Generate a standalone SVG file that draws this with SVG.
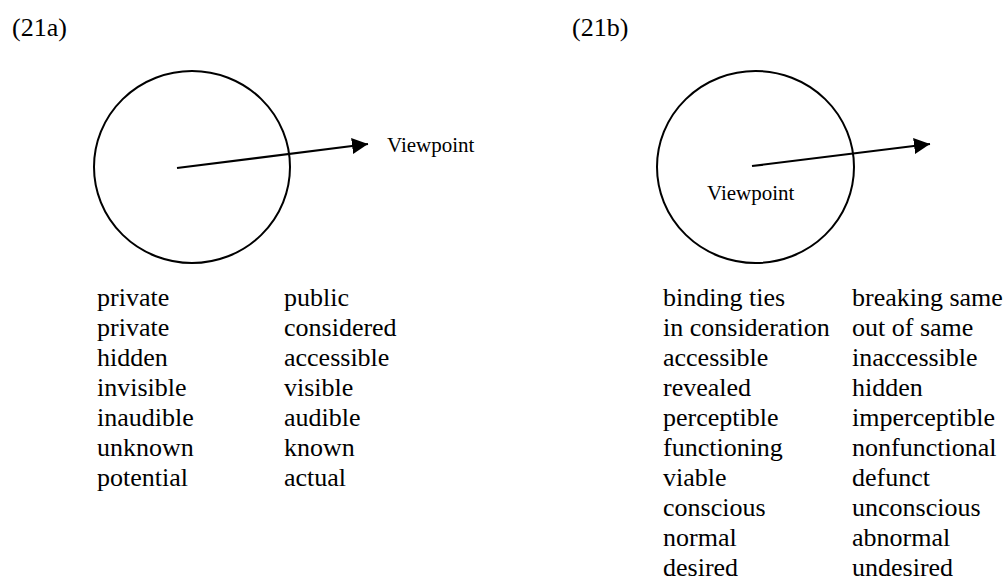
<svg xmlns="http://www.w3.org/2000/svg" width="1005" height="583" viewBox="0 0 1005 583">
<style>
text{font-family:"Liberation Serif","Times New Roman",serif;fill:#000}
.t{font-size:26px}
.v{font-size:21px}
.c{fill:none;stroke:#000;stroke-width:2}
.a{stroke:#000;stroke-width:2.2;fill:none}
</style>
<defs>
<marker id="ah" viewBox="0 0 16 16" refX="16" refY="8" markerWidth="16" markerHeight="16" markerUnits="userSpaceOnUse" orient="auto">
<path d="M0,0 L16,8 L0,16 z" fill="#000"/>
</marker>
</defs>
<rect width="1005" height="583" fill="#fff"/>
<g id="label-21a"><text class="t" x="12" y="36">(21a)</text></g>
<g id="label-21b"><text class="t" x="572" y="36">(21b)</text></g>
<g id="circle-a"><ellipse class="c" cx="192" cy="167" rx="98" ry="96"/></g>
<g id="circle-b"><ellipse class="c" cx="755.5" cy="167" rx="98.5" ry="96"/></g>
<g id="viewpoint-a"><text class="v" x="387" y="152">Viewpoint</text></g>
<g id="viewpoint-b"><text class="v" x="707" y="200">Viewpoint</text></g>
<g id="connectors">
<line class="a" x1="177" y1="168" x2="368" y2="144" marker-end="url(#ah)"/>
<line class="a" x1="752" y1="166" x2="930" y2="144" marker-end="url(#ah)"/>
</g>
<g id="list-a">
<text class="t" x="97" y="306">private</text><text class="t" x="284" y="306">public</text>
<text class="t" x="97" y="336">private</text><text class="t" x="284" y="336">considered</text>
<text class="t" x="97" y="366">hidden</text><text class="t" x="284" y="366">accessible</text>
<text class="t" x="97" y="396">invisible</text><text class="t" x="284" y="396">visible</text>
<text class="t" x="97" y="426">inaudible</text><text class="t" x="284" y="426">audible</text>
<text class="t" x="97" y="456">unknown</text><text class="t" x="284" y="456">known</text>
<text class="t" x="97" y="486">potential</text><text class="t" x="284" y="486">actual</text>
</g>
<g id="list-b">
<text class="t" x="663" y="306">binding ties</text><text class="t" x="852" y="306">breaking same</text>
<text class="t" x="663" y="336">in consideration</text><text class="t" x="852" y="336">out of same</text>
<text class="t" x="663" y="366">accessible</text><text class="t" x="852" y="366">inaccessible</text>
<text class="t" x="663" y="396">revealed</text><text class="t" x="852" y="396">hidden</text>
<text class="t" x="663" y="426">perceptible</text><text class="t" x="852" y="426">imperceptible</text>
<text class="t" x="663" y="456">functioning</text><text class="t" x="852" y="456">nonfunctional</text>
<text class="t" x="663" y="486">viable</text><text class="t" x="852" y="486">defunct</text>
<text class="t" x="663" y="516">conscious</text><text class="t" x="852" y="516">unconscious</text>
<text class="t" x="663" y="546">normal</text><text class="t" x="852" y="546">abnormal</text>
<text class="t" x="663" y="576">desired</text><text class="t" x="852" y="576">undesired</text>
</g>
</svg>
